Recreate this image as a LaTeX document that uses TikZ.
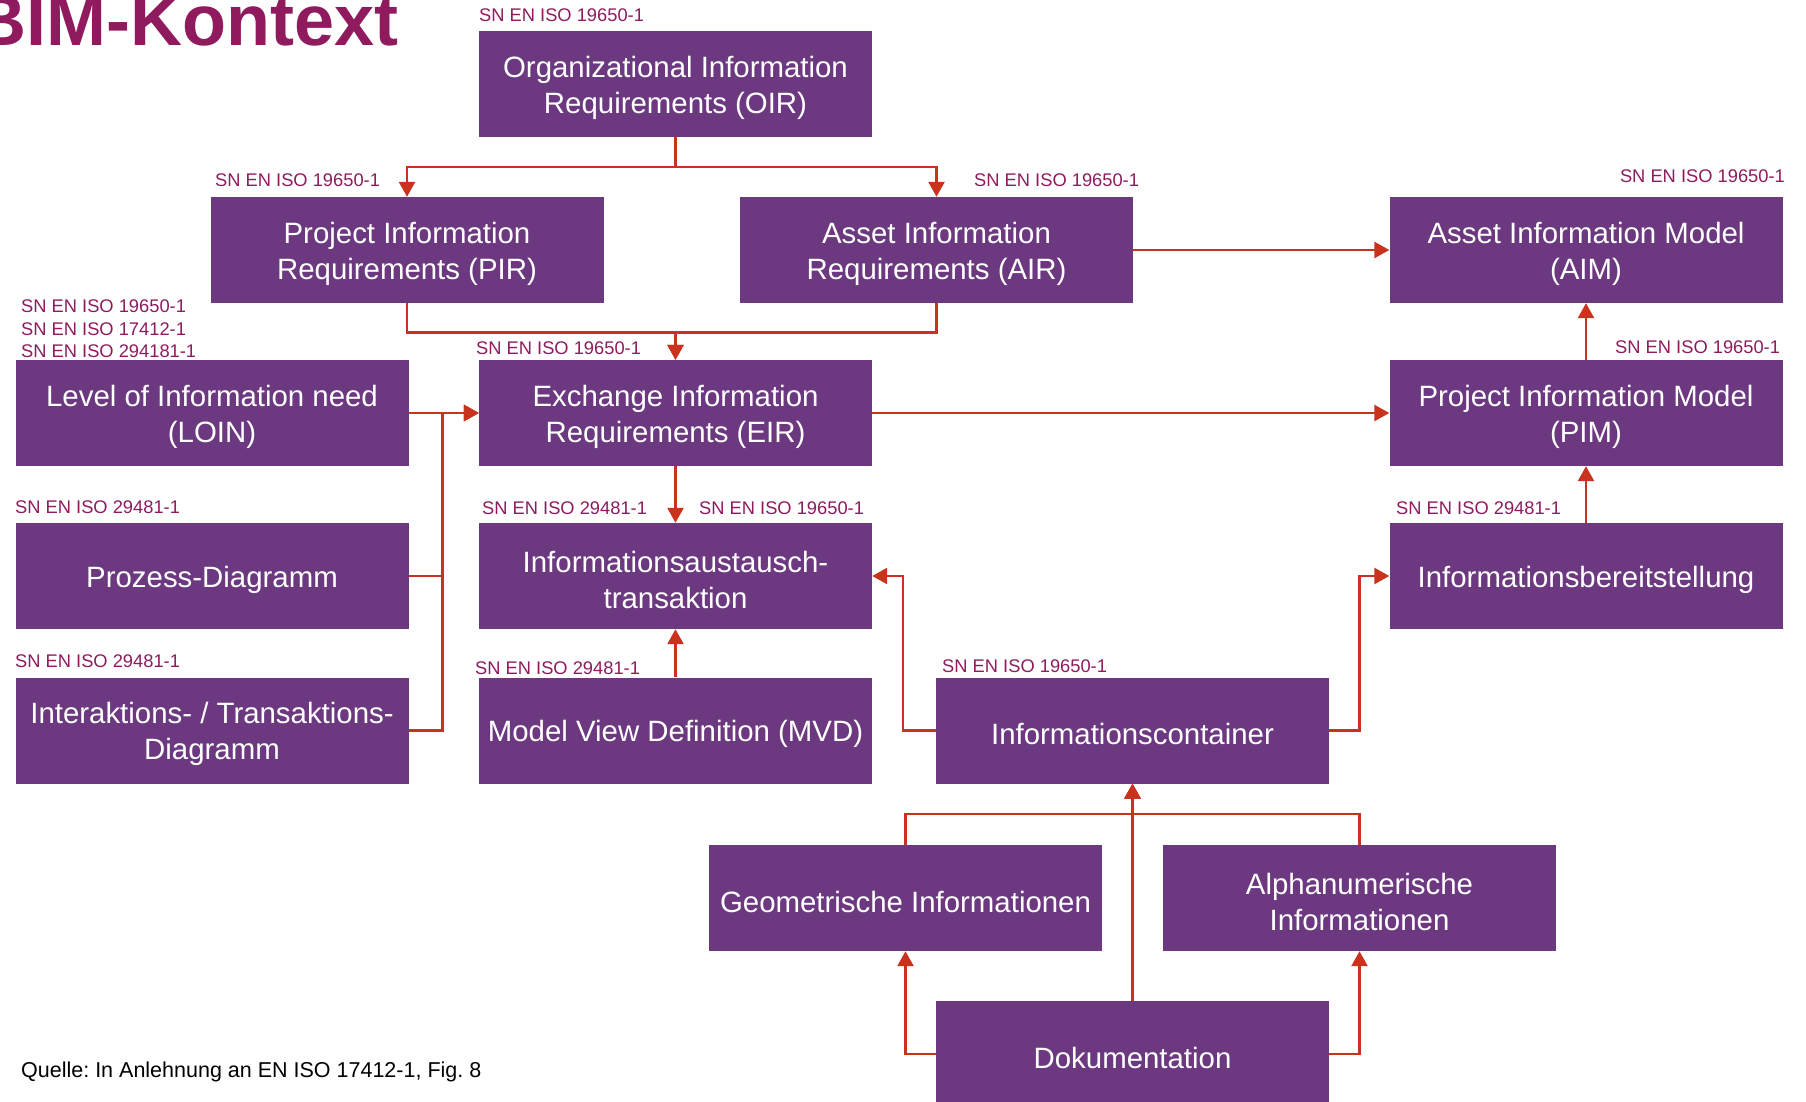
\documentclass[tikz,border=0pt]{standalone}
\usepackage{fontspec}
\setmainfont{Liberation Sans}
\usetikzlibrary{arrows.meta}
\definecolor{boxc}{HTML}{6C3880}
\definecolor{labc}{HTML}{8E1B5E}
\definecolor{titc}{HTML}{8F1A5E}
\definecolor{arrc}{HTML}{C9321C}
\frenchspacing
\newcommand{\tp}{\rule{0pt}{28.5pt}}
\tikzset{
  box/.style={rectangle, fill=boxc, text=white, minimum width=393pt, minimum height=106pt,
    inner sep=0pt, align=center, font=\fontsize{29.4}{36}\selectfont},
  lab/.style={anchor=base west, inner sep=0pt, text=labc, font=\fontsize{18.3}{22}\selectfont},
  conn/.style={draw=arrc, line width=2.6pt, -{Triangle[length=15pt,width=16pt]}},
}
\begin{document}
\begin{tikzpicture}[x=1pt,y=-1pt]
\useasboundingbox (0,0) rectangle (1806,1102);
\clip (0,0) rectangle (1806,1102);

% title
\node[anchor=base east, inner sep=0pt, text=titc, font=\fontsize{72}{72}\selectfont\bfseries] (title) at (399,46) {BIM-Kontext};

% boxes
\node[box] (oir) at (675.5,84) {\tp Organizational Information\\Requirements (OIR)};
\node[box] (pir) at (407,250) {\tp Project Information\\Requirements (PIR)};
\node[box] (air) at (936.5,250) {\tp Asset Information\\Requirements (AIR)};
\node[box] (aim) at (1586,250) {\tp Asset Information Model\\(AIM)};
\node[box] (loin) at (212,413) {\tp Level of Information need\\(LOIN)};
\node[box] (eir) at (675.5,413) {\tp Exchange Information\\Requirements (EIR)};
\node[box] (pim) at (1586,413) {\tp Project Information Model\\(PIM)};
\node[box] (proz) at (212,576) {\tp Prozess-Diagramm};
\node[box] (iat) at (675.5,576) {\tp Informationsaustausch-\\transaktion};
\node[box] (ibs) at (1586,576) {\tp Informationsbereitstellung};
\node[box] (inter) at (212,730.5) {\tp Interaktions- / Transaktions-\\Diagramm};
\node[box] (mvd) at (675.5,730.5) {\tp Model View Definition (MVD)};
\node[box] (ic) at (1132.5,730.5) {\tp Informationscontainer};
\node[box] (geo) at (905.5,898) {\tp Geometrische Informationen};
\node[box] (alpha) at (1359.5,898) {\tp Alphanumerische\\Informationen};
\node[box] (doku) at (1132.5,1054) {\tp Dokumentation};

% labels
\node[lab] (l1) at (479,22) {SN EN ISO 19650-1};
\node[lab] (l2) at (215,187) {SN EN ISO 19650-1};
\node[lab] (l3) at (974,187) {SN EN ISO 19650-1};
\node[lab, anchor=base east] (l4) at (1785,183) {SN EN ISO 19650-1};
\node[lab] (l5a) at (21,312.5) {SN EN ISO 19650-1};
\node[lab] (l5b) at (21,335) {SN EN ISO 17412-1};
\node[lab] (l5c) at (21,357) {SN EN ISO 294181-1};
\node[lab] (l6) at (476,354) {SN EN ISO 19650-1};
\node[lab] (l7) at (1615,353) {SN EN ISO 19650-1};
\node[lab] (l8) at (15,513) {SN EN ISO 29481-1};
\node[lab] (l9) at (482,514) {SN EN ISO 29481-1};
\node[lab] (l10) at (699,514) {SN EN ISO 19650-1};
\node[lab] (l11) at (1396,514) {SN EN ISO 29481-1};
\node[lab] (l12) at (15,667) {SN EN ISO 29481-1};
\node[lab] (l13) at (475,674) {SN EN ISO 29481-1};
\node[lab] (l14) at (942,672) {SN EN ISO 19650-1};
\node[anchor=base west, inner sep=0pt, font=\fontsize{21.5}{26}\selectfont] (src) at (21,1077) {Quelle: In Anlehnung an EN ISO 17412-1, Fig. 8};

% connectors
\draw[conn] (oir.south) -- ++(0,30) -| (pir.north);
\draw[conn] (oir.south) -- ++(0,30) -| (air.north);
\draw[conn] (pir.south) -- ++(0,29) -| (eir.north);
\draw[conn] (air.south) -- ++(0,29) -| (eir.north);
\draw[conn] (air.east) -- (aim.west);
\draw[conn] (loin.east) -- (eir.west);
\draw[conn] (proz.east) -- ++(34,0) |- (eir.west);
\draw[conn] (inter.east) -- ++(34,0) |- (eir.west);
\draw[conn] (eir.east) -- (pim.west);
\draw[conn] (pim.north) -- (aim.south);
\draw[conn] (ibs.north) -- (pim.south);
\draw[conn] (eir.south) -- (iat.north);
\draw[conn] (mvd.north) -- (iat.south);
\draw[conn] (ic.west) -- ++(-33,0) |- (iat.east);
\draw[conn] (ic.east) -- ++(30,0) |- (ibs.west);
\draw[conn] (doku.north) -- (ic.south);
\draw[conn] (geo.north) -- ++(0,-31) -| (ic.south);
\draw[conn] (alpha.north) -- ++(0,-31) -| (ic.south);
\draw[conn] (doku.west) -| (geo.south);
\draw[conn] (doku.east) -| (alpha.south);
\end{tikzpicture}
\end{document}
